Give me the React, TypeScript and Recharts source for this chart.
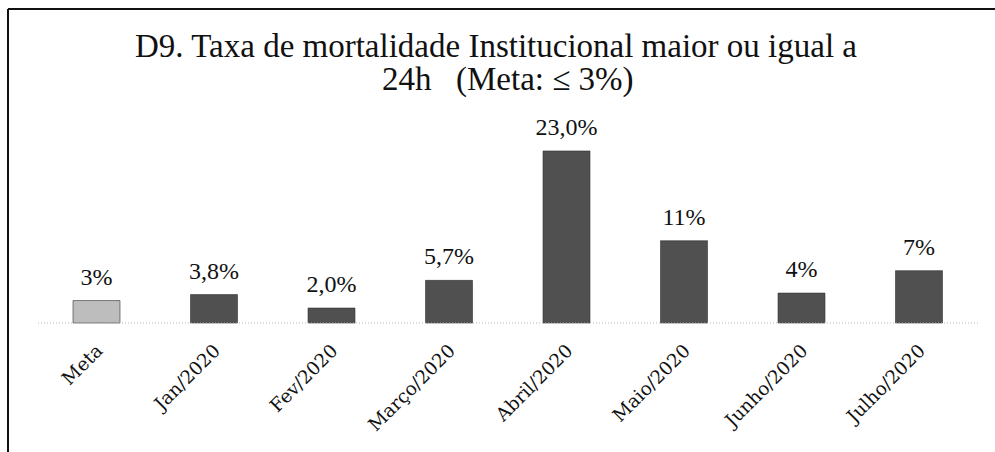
import React from 'react';
import { BarChart, Bar, XAxis, YAxis, LabelList, Cell } from 'recharts';

const categories = ['Meta', 'Jan/2020', 'Fev/2020', 'Março/2020', 'Abril/2020', 'Maio/2020', 'Junho/2020', 'Julho/2020'];
const values = [3, 3.8, 2.0, 5.7, 23.0, 11, 4, 7];
const valueLabels = ['3%', '3,8%', '2,0%', '5,7%', '23,0%', '11%', '4%', '7%'];
const barColors = ['#bdbdbd', '#505050', '#505050', '#505050', '#505050', '#505050', '#505050', '#505050'];
const titleLine1 = 'D9. Taxa de mortalidade Institucional maior ou igual a';
const titleLine2a = '24h';
const titleLine2b = '(Meta: ≤ 3%)';

const data = categories.map((c, i) => ({ name: c, value: values[i], label: valueLabels[i] }));

const FONT = '"Liberation Serif", "DejaVu Serif", serif';
const TICK_FONT = '"DejaVu Serif", "Liberation Serif", serif';

const Tick = (props: any) => {
  const { x, y, payload } = props;
  return (
    <g transform={`translate(${x + 7},${y + 29})`}>
      <text x={0} y={0} transform="rotate(-45)" textAnchor="end" fontFamily={TICK_FONT} fontSize={18.5} fill="#111">
        {payload.value}
      </text>
    </g>
  );
};

export default function App() {
  return (
    <div style={{ position: 'absolute', left: 0, top: 0, width: 995, height: 452, background: '#fff' }}>
      <BarChart
        width={995}
        height={452}
        data={data}
        margin={{ top: 136, right: 17, bottom: 0, left: 38 }}
      >
        <YAxis hide domain={[0, 25]} width={0} />
        <XAxis
          dataKey="name"
          height={129}
          interval={0}
          tickLine={false}
          tickSize={0}
          tickMargin={0}
          axisLine={{ stroke: '#b5b5b5', strokeDasharray: '1 2' }}
          tick={<Tick />}
        />
        <Bar dataKey="value" barSize={47} isAnimationActive={false} stroke="#333" strokeWidth={0.6}>
          {data.map((d, i) => (
            <Cell key={d.name} fill={barColors[i]} />
          ))}
          <LabelList dataKey="label" position="top" offset={16} fill="#111" fontSize={24} fontFamily={FONT} />
        </Bar>
      </BarChart>
      <svg width={995} height={452} style={{ position: 'absolute', left: 0, top: 0, pointerEvents: 'none' }}>
        <line x1={8} y1={9} x2={995} y2={9} stroke="#111" strokeWidth={2} />
        <line x1={8} y1={9} x2={8} y2={452} stroke="#111" strokeWidth={2} />
        <text x={496} y={57} textAnchor="middle" fontFamily={FONT} fontSize={33} fill="#111">
          {titleLine1}
        </text>
        <text x={382} y={90} textAnchor="start" fontFamily={FONT} fontSize={33} fill="#111">
          {titleLine2a}
        </text>
        <text x={456} y={90} textAnchor="start" fontFamily={FONT} fontSize={33} fill="#111">
          {titleLine2b}
        </text>
      </svg>
    </div>
  );
}
